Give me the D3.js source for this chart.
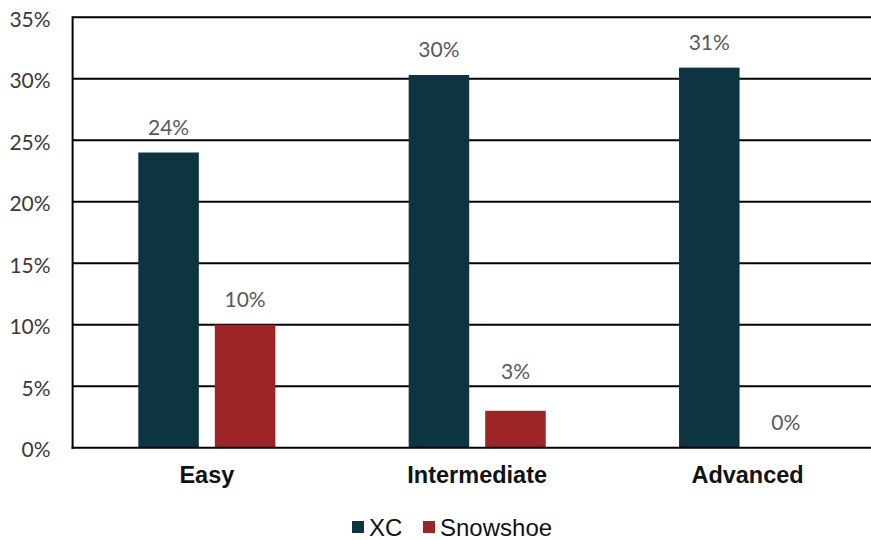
<!DOCTYPE html>
<html><head><meta charset="utf-8">
<script src="https://cdn.jsdelivr.net/npm/d3@7/dist/d3.min.js"></script>
<style>body{margin:0;background:#fff}svg{display:block}</style>
</head><body>
<svg id="c" width="871" height="540"></svg>
<script>
const categories = ["Easy", "Intermediate", "Advanced"];
const series = ["XC", "Snowshoe"];
const xcValues = [0.24, 0.303, 0.309];
const snowshoeValues = [0.10, 0.03, 0.0];
const valueLabels = [["24%", "30%", "31%"], ["10%", "3%", "0%"]];
const yTicks = [0, 0.05, 0.10, 0.15, 0.20, 0.25, 0.30, 0.35];
const colors = ["#0c3441", "#9c2526"];
// extra label lift (px) used in the reference to keep the label clear of a gridline
const labelLift = [[0, 0, 0], [0, 14, 0]];

const svg = d3.select("#c");
const plotLeft = 72.6, plotRight = 882.8, plotTop = 17.2, plotBottom = 447.7;

const x0 = d3.scaleBand().domain(categories).range([plotLeft - 1, plotRight]).paddingInner(0.493).paddingOuter(0.2467);
const x1 = d3.scaleBand().domain(series).range([0, x0.bandwidth()]).paddingInner(0.209);
const y = d3.scaleLinear().domain([0, 0.35]).range([plotBottom, plotTop]);

// gridlines
svg.append("g").selectAll("line").data(yTicks.slice(1)).join("line")
  .attr("x1", plotLeft).attr("x2", plotRight).attr("y1", d => y(d)).attr("y2", d => y(d))
  .attr("stroke", "#000").attr("stroke-width", 2);

// y axis labels
const yAxis = d3.axisLeft(y).tickValues(yTicks).tickFormat(d3.format(".0%")).tickSize(0).tickPadding(22);
const gy = svg.append("g").attr("transform", `translate(${plotLeft},0)`).call(yAxis);
gy.select(".domain").remove();
gy.selectAll("text").attr("font-family", "Lato, 'Open Sans', sans-serif").attr("font-size", 21)
  .attr("fill", "#3a3a3a").attr("dy", "0.42em");

const data = [xcValues, snowshoeValues];
const g = svg.append("g");
series.forEach((s, si) => {
  g.selectAll(".b" + si).data(categories).join("rect")
    .attr("x", c => x0(c) + x1(s))
    .attr("width", x1.bandwidth())
    .attr("y", (c, i) => y(data[si][i]))
    .attr("height", (c, i) => plotBottom - y(data[si][i]))
    .attr("fill", colors[si]);
  g.selectAll(".t" + si).data(categories).join("text")
    .attr("x", c => x0(c) + x1(s) + x1.bandwidth() / 2)
    .attr("y", (c, i) => y(data[si][i]) - 18 - labelLift[si][i])
    .attr("text-anchor", "middle")
    .attr("font-family", "Lato, 'Open Sans', sans-serif").attr("font-size", 21)
    .attr("fill", "#595959")
    .text((c, i) => valueLabels[si][i]);
});

// axes lines
svg.append("line").attr("x1", plotLeft).attr("x2", plotLeft).attr("y1", plotTop - 1).attr("y2", plotBottom + 1)
  .attr("stroke", "#000").attr("stroke-width", 2);
svg.append("line").attr("x1", plotLeft - 1).attr("x2", plotRight).attr("y1", plotBottom).attr("y2", plotBottom)
  .attr("stroke", "#000").attr("stroke-width", 2);

// x axis labels
const xAxis = d3.axisBottom(x0).tickSize(0).tickPadding(19);
const gx = svg.append("g").attr("transform", `translate(0,${plotBottom})`).call(xAxis);
gx.select(".domain").remove();
gx.selectAll("text").attr("font-family", "'Liberation Sans', Arial, sans-serif").attr("font-size", 23.5)
  .attr("font-weight", "bold").attr("fill", "#111");

// legend
const legendX = [352, 423];
const lg = svg.append("g");
series.forEach((s, i) => {
  lg.append("rect").attr("x", legendX[i]).attr("y", 521).attr("width", 12).attr("height", 12).attr("fill", colors[i]);
  lg.append("text").attr("x", legendX[i] + 17).attr("y", 535.5)
    .attr("font-family", "'Liberation Sans', Arial, sans-serif").attr("font-size", 24).attr("fill", "#111").text(s);
});
</script>
</body></html>
